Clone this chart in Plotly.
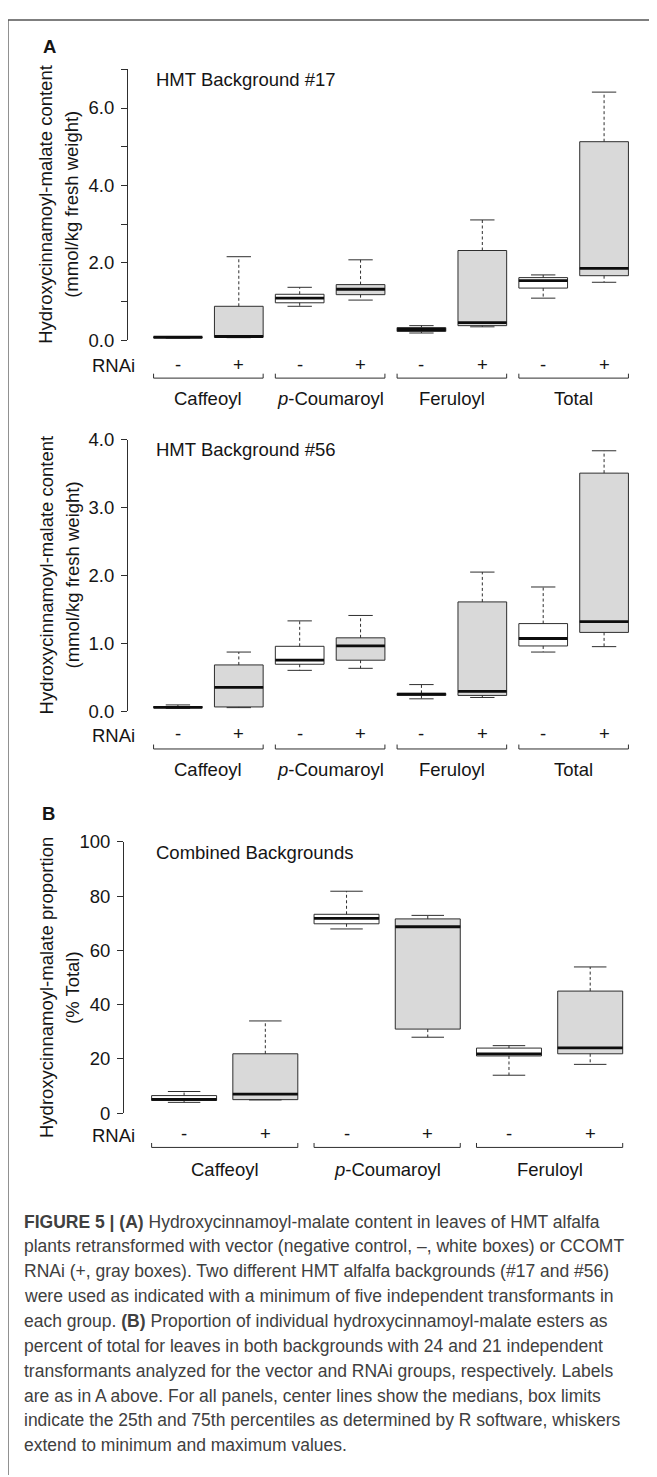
import plotly.graph_objects as go

W, H = 657, 1477
# the page body adds an 8px margin; positions below are page pixels
OFF_X, OFF_Y = 8, 8

# ---------------- data ----------------
GROUPS_A = ["Caffeoyl", "<i>p</i>-Coumaroyl", "Feruloyl", "Total"]
GROUPS_B = ["Caffeoyl", "<i>p</i>-Coumaroyl", "Feruloyl"]
RNAI_SIGNS = ["-", "+"]

# order: Caffeoyl -, Caffeoyl +, p-Coumaroyl -, p-Coumaroyl +, Feruloyl -, Feruloyl +, Total -, Total +
A17_MIN = [0.06, 0.07, 0.88, 1.04, 0.19, 0.35, 1.09, 1.50]
A17_Q1 = [0.07, 0.08, 0.97, 1.18, 0.23, 0.38, 1.35, 1.67]
A17_MED = [0.08, 0.10, 1.09, 1.32, 0.28, 0.46, 1.54, 1.86]
A17_Q3 = [0.09, 0.88, 1.19, 1.44, 0.33, 2.32, 1.62, 5.13]
A17_MAX = [0.10, 2.16, 1.37, 2.08, 0.38, 3.11, 1.69, 6.41]

A56_MIN = [0.04, 0.05, 0.60, 0.63, 0.18, 0.20, 0.87, 0.95]
A56_Q1 = [0.05, 0.06, 0.69, 0.75, 0.23, 0.23, 0.96, 1.16]
A56_MED = [0.055, 0.35, 0.75, 0.96, 0.25, 0.29, 1.07, 1.32]
A56_Q3 = [0.065, 0.68, 0.955, 1.08, 0.26, 1.61, 1.29, 3.51]
A56_MAX = [0.09, 0.87, 1.33, 1.41, 0.39, 2.05, 1.83, 3.84]

# order: Caffeoyl -, Caffeoyl +, p-Coumaroyl -, p-Coumaroyl +, Feruloyl -, Feruloyl +
B_MIN = [4.0, 4.9, 67.9, 28.0, 14.0, 18.0]
B_Q1 = [4.7, 5.0, 69.8, 31.0, 21.1, 21.9]
B_MED = [5.1, 7.0, 71.8, 68.7, 21.9, 24.1]
B_Q3 = [6.5, 21.9, 73.3, 71.6, 24.0, 45.0]
B_MAX = [8.0, 34.0, 81.8, 72.9, 24.9, 53.9]

A17_TICKS = [0, 1, 2, 3, 4, 5, 6, 7]
A17_TICKTEXT = ["0.0", "", "2.0", "", "4.0", "", "6.0", ""]
A56_TICKS = [0, 1, 2, 3, 4]
A56_TICKTEXT = ["0.0", "1.0", "2.0", "3.0", "4.0"]
B_TICKS = [0, 20, 40, 60, 80, 100]
B_TICKTEXT = ["0", "20", "40", "60", "80", "100"]

CAPTION = [
    "<b>FIGURE 5 | (A)</b> Hydroxycinnamoyl-malate content in leaves of HMT alfalfa",
    "plants retransformed with vector (negative control, \u2013, white boxes) or CCOMT",
    "RNAi (+, gray boxes). Two different HMT alfalfa backgrounds (#17 and #56)",
    "were used as indicated with a minimum of five independent transformants in",
    "each group. <b>(B)</b> Proportion of individual hydroxycinnamoyl-malate esters as",
    "percent of total for leaves in both backgrounds with 24 and 21 independent",
    "transformants analyzed for the vector and RNAi groups, respectively. Labels",
    "are as in A above. For all panels, center lines show the medians, box limits",
    "indicate the 25th and 75th percentiles as determined by R software, whiskers",
    "extend to minimum and maximum values.",
]

# ---------------- style ----------------
FONT = "Liberation Sans, Arial, Helvetica, sans-serif"
FS = 18.5
TXT = "#151515"
LINE = "#2e2e2e"
GRAY = "#d9d9d9"
BOX_W = 0.8
CAP_W = 0.4


def py(p):
    return 1 - (p - OFF_Y) / H


def px(p):
    return (p - OFF_X) / W


panels = [
    dict(groups=GROUPS_A, mn=A17_MIN, q1=A17_Q1, med=A17_MED, q3=A17_Q3, mx=A17_MAX,
         yr=[0, 7], tv=A17_TICKS, tt=A17_TICKTEXT, ypix=(59, 334), xpix=(128, 654),
         xr=[0.18, 8.82], title="HMT Background #17", title_y=69,
         ytitle=["Hydroxycinnamoyl-malate content", "(mmol/kg fresh weight)"], ytitle_y=196.5,
         row=(360, 372.3, 393.3)),
    dict(groups=GROUPS_A, mn=A56_MIN, q1=A56_Q1, med=A56_MED, q3=A56_Q3, mx=A56_MAX,
         yr=[0, 4], tv=A56_TICKS, tt=A56_TICKTEXT, ypix=(435, 710), xpix=(128, 654),
         xr=[0.18, 8.82], title="HMT Background #56", title_y=445,
         ytitle=["Hydroxycinnamoyl-malate content", "(mmol/kg fresh weight)"], ytitle_y=572.5,
         row=(735, 748.5, 769.5)),
    dict(groups=GROUPS_B, mn=B_MIN, q1=B_Q1, med=B_MED, q3=B_Q3, mx=B_MAX,
         yr=[0, 100], tv=B_TICKS, tt=B_TICKTEXT, ypix=(842.7, 1118), xpix=(124, 650.3),
         xr=[0.26, 6.74], title="Combined Backgrounds", title_y=853.3,
         ytitle=["Hydroxycinnamoyl-malate proportion", "(% Total)"], ytitle_y=991,
         row=(1141, 1152.7, 1175)),
]

fig = go.Figure()
annotations = []
shapes = []

for i, p in enumerate(panels, start=1):
    xa = "x" if i == 1 else f"x{i}"
    ya = "y" if i == 1 else f"y{i}"
    n = len(p["med"])
    pos = list(range(1, n + 1))
    for parity, fill in ((0, "white"), (1, GRAY)):
        idx = [k for k in range(n) if k % 2 == parity]
        fig.add_trace(go.Box(
            x=[pos[k] for k in idx],
            q1=[p["q1"][k] for k in idx],
            median=[p["med"][k] for k in idx],
            q3=[p["q3"][k] for k in idx],
            lowerfence=[p["q1"][k] for k in idx],
            upperfence=[p["q3"][k] for k in idx],
            width=BOX_W, whiskerwidth=0, boxpoints=False,
            fillcolor=fill, line=dict(color=LINE, width=1),
            xaxis=xa, yaxis=ya, showlegend=False, hoverinfo="skip",
        ))
    # whiskers (dashed)
    wx, wy = [], []
    for k in range(n):
        wx += [pos[k], pos[k], None, pos[k], pos[k], None]
        wy += [p["q3"][k], p["mx"][k], None, p["q1"][k], p["mn"][k], None]
    fig.add_trace(go.Scatter(x=wx, y=wy, mode="lines", xaxis=xa, yaxis=ya,
                             line=dict(color=LINE, width=1, dash="3px,2.5px"),
                             showlegend=False, hoverinfo="skip"))
    # caps
    cx, cy = [], []
    for k in range(n):
        cx += [pos[k] - CAP_W / 2, pos[k] + CAP_W / 2, None] * 2
        cy += [p["mx"][k], p["mx"][k], None, p["mn"][k], p["mn"][k], None]
    fig.add_trace(go.Scatter(x=cx, y=cy, mode="lines", xaxis=xa, yaxis=ya,
                             line=dict(color=LINE, width=1),
                             showlegend=False, hoverinfo="skip"))
    # medians (thick)
    mx_, my_ = [], []
    for k in range(n):
        mx_ += [pos[k] - BOX_W / 2, pos[k] + BOX_W / 2, None]
        my_ += [p["med"][k], p["med"][k], None]
    fig.add_trace(go.Scatter(x=mx_, y=my_, mode="lines", xaxis=xa, yaxis=ya,
                             line=dict(color="#0d0d0d", width=2.8),
                             showlegend=False, hoverinfo="skip"))

    x0, x1 = p["xpix"]
    y0, y1 = p["ypix"]
    fig.update_layout(**{
        ("xaxis" if i == 1 else f"xaxis{i}"): dict(
            domain=[px(x0), px(x1)], range=p["xr"], visible=False, anchor=ya, fixedrange=True),
        ("yaxis" if i == 1 else f"yaxis{i}"): dict(
            domain=[py(y1), py(y0)], range=p["yr"], anchor=xa,
            showline=True, linecolor=LINE, linewidth=1,
            ticks="outside", ticklen=6, tickwidth=1, tickcolor=LINE,
            tickvals=p["tv"], ticktext=p["tt"], ticklabelstandoff=3,
            tickfont=dict(family=FONT, size=FS, color=TXT),
            showgrid=False, zeroline=False, fixedrange=True),
    })

    # panel title
    annotations.append(dict(text=p["title"], xref="paper", yref="paper", x=px(154), y=py(p["title_y"]),
                            xanchor="left", yanchor="middle", showarrow=False,
                            font=dict(family=FONT, size=FS, color=TXT)))
    # y-axis titles
    for t, cxp in zip(p["ytitle"], (46, 72)):
        annotations.append(dict(text=t, xref="paper", yref="paper", x=px(cxp), y=py(p["ytitle_y"]),
                                xanchor="center", yanchor="middle", textangle=-90, showarrow=False,
                                font=dict(family=FONT, size=FS, color=TXT)))
    # RNAi row
    r_y, b_y, g_y = p["row"]
    annotations.append(dict(text="RNAi", xref="paper", yref="paper", x=px(90), y=py(r_y),
                            xanchor="left", yanchor="middle", showarrow=False,
                            font=dict(family=FONT, size=FS, color=TXT)))
    for k in range(n):
        annotations.append(dict(text=RNAI_SIGNS[k % 2], xref=xa, yref="paper", x=pos[k], y=py(r_y - 2),
                                xanchor="center", yanchor="middle", showarrow=False,
                                font=dict(family=FONT, size=FS, color=TXT)))
    for g, name in enumerate(p["groups"]):
        a = pos[2 * g] - BOX_W / 2
        b = pos[2 * g + 1] + BOX_W / 2
        shapes.append(dict(type="path", xref=xa, yref="paper",
                           path=f"M {a},{py(b_y - 4.5)} L {a},{py(b_y)} L {b},{py(b_y)} L {b},{py(b_y - 4.5)}",
                           line=dict(color=LINE, width=1)))
        annotations.append(dict(text=name, xref=xa, yref="paper", x=(pos[2 * g] + pos[2 * g + 1]) / 2,
                                y=py(g_y), xanchor="center", yanchor="middle", showarrow=False,
                                font=dict(family=FONT, size=FS, color=TXT)))

# panel letters
annotations.append(dict(text="<b>A</b>", xref="paper", yref="paper", x=px(41), y=py(35.5),
                        xanchor="left", yanchor="middle", showarrow=False,
                        font=dict(family=FONT, size=FS, color=TXT)))
annotations.append(dict(text="<b>B</b>", xref="paper", yref="paper", x=px(40), y=py(814),
                        xanchor="left", yanchor="middle", showarrow=False,
                        font=dict(family=FONT, size=FS, color=TXT)))

# caption
for k, line in enumerate(CAPTION):
    annotations.append(dict(text=line, xref="paper", yref="paper", x=px(22), y=py(1228 + 25.2 * k),
                            xanchor="left", yanchor="middle", showarrow=False,
                            font=dict(family=FONT, size=17.5, color="#404040")))

# outer frame (top and left)
shapes.append(dict(type="line", xref="paper", yref="paper", x0=px(8), x1=1, y0=py(9), y1=py(9),
                   line=dict(color="#555555", width=1.3)))
shapes.append(dict(type="line", xref="paper", yref="paper", x0=px(8), x1=px(8), y0=py(9), y1=0,
                   line=dict(color="#555555", width=1.3)))

fig.update_layout(
    width=W, height=H, autosize=False,
    margin=dict(l=0, r=0, t=0, b=0),
    paper_bgcolor="white", plot_bgcolor="white",
    showlegend=False, boxmode="overlay",
    annotations=annotations, shapes=shapes,
    font=dict(family=FONT, size=FS, color=TXT),
)

fig.write_html("out.html", config={"displayModeBar": False})
